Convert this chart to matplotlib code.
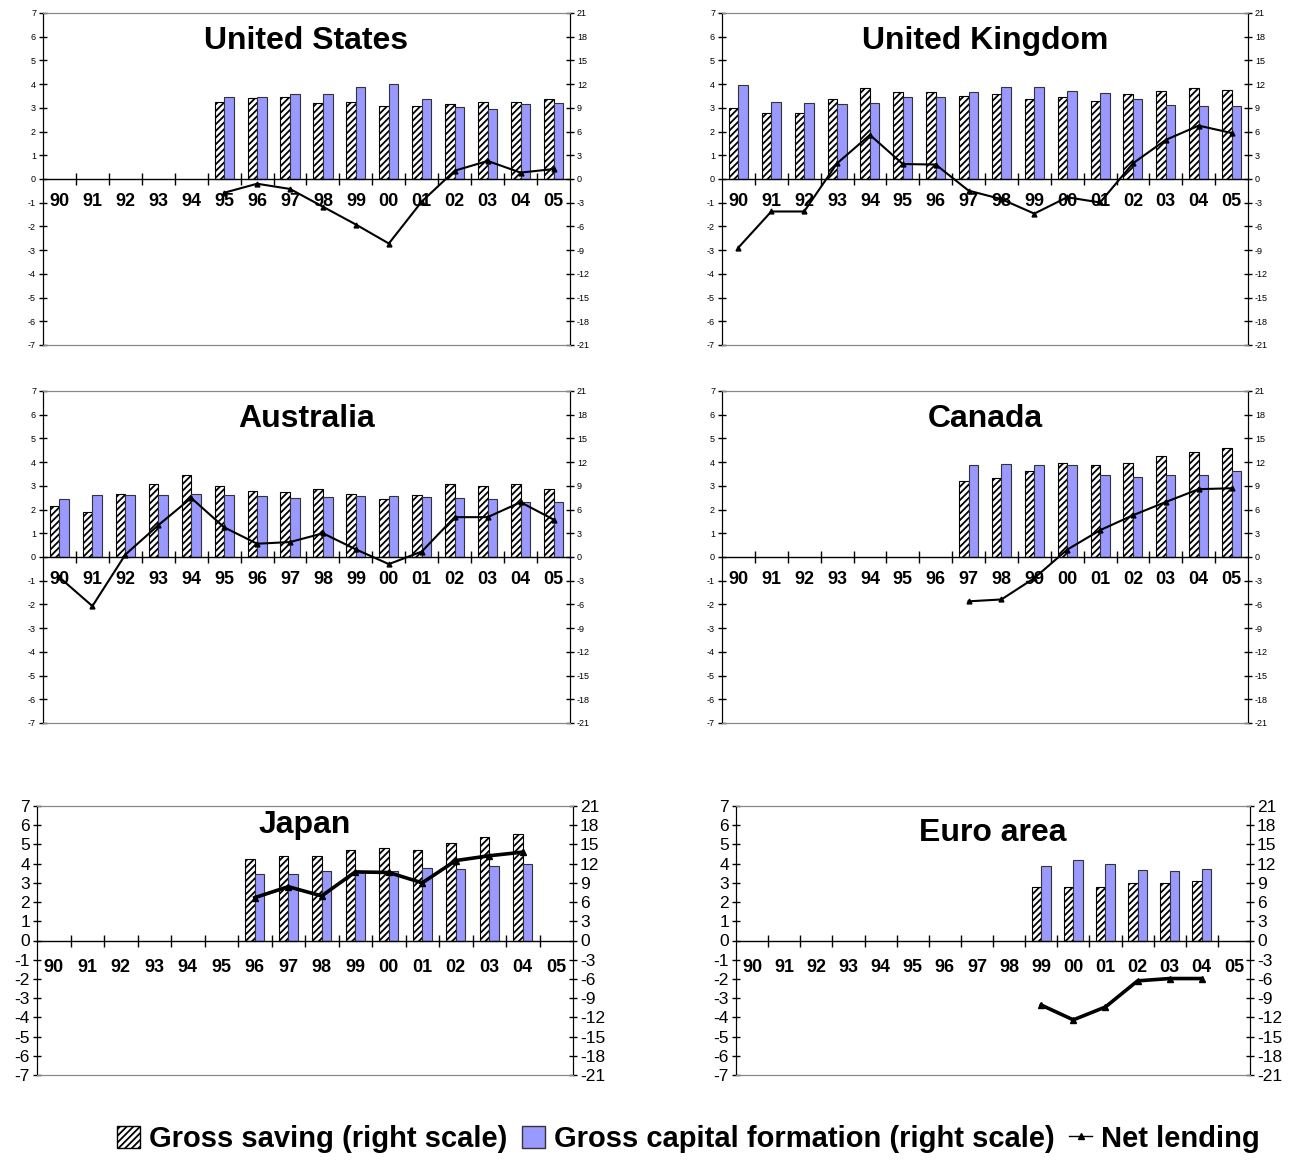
import matplotlib
matplotlib.use("Agg")
import matplotlib.pyplot as plt
import numpy as np
from matplotlib.lines import Line2D
from matplotlib.patches import Patch


FIG_W, FIG_H = 1296, 1167
YEARS = ["90", "91", "92", "93", "94", "95", "96", "97", "98", "99",
         "00", "01", "02", "03", "04", "05"]

# gross saving / gross capital formation on the right scale, net lending on the left
US_START = "95"
US_SAVING = [9.8, 10.2, 10.4, 9.6, 9.7, 9.2, 9.2, 9.5, 9.7, 9.8, 10.1]
US_GCF = [10.4, 10.4, 10.8, 10.7, 11.7, 12.0, 10.1, 9.1, 8.9, 9.5, 9.6]
US_NET = [-0.58, -0.2, -0.42, -1.17, -1.92, -2.72, -0.95, 0.35, 0.76, 0.27, 0.42]

UK_START = "90"
UK_SAVING = [9.0, 8.4, 8.3, 10.1, 11.5, 11.0, 11.0, 10.5, 10.8, 10.1, 10.4, 9.9,
             10.7, 11.1, 11.5, 11.3]
UK_GCF = [11.9, 9.8, 9.6, 9.5, 9.6, 10.4, 10.4, 11.0, 11.6, 11.6, 11.1, 10.9,
          10.1, 9.4, 9.2, 9.2]
UK_NET = [-2.89, -1.37, -1.37, 0.66, 1.86, 0.63, 0.61, -0.49, -0.85, -1.46, -0.77,
          -0.99, 0.66, 1.65, 2.25, 1.94]

AU_START = "90"
AU_SAVING = [6.5, 5.7, 8.0, 9.2, 10.4, 9.0, 8.3, 8.2, 8.6, 8.0, 7.4, 7.9, 9.2,
             9.0, 9.2, 8.6]
AU_GCF = [7.4, 7.8, 7.9, 7.9, 8.0, 7.8, 7.7, 7.5, 7.6, 7.7, 7.7, 7.6, 7.5, 7.3,
          7.0, 6.9]
AU_NET = [-0.86, -2.07, 0.1, 1.34, 2.49, 1.25, 0.56, 0.63, 1.0, 0.32, -0.3, 0.23,
          1.68, 1.68, 2.31, 1.58]

CA_START = "97"
CA_SAVING = [9.6, 10.0, 10.9, 11.9, 11.6, 11.9, 12.8, 13.3, 13.8]
CA_GCF = [11.6, 11.8, 11.7, 11.6, 10.4, 10.1, 10.4, 10.4, 10.9]
CA_NET = [-1.87, -1.79, -0.89, 0.31, 1.13, 1.76, 2.32, 2.86, 2.9]

JP_START = "96"
JP_SAVING = [12.7, 13.2, 13.2, 14.2, 14.4, 14.2, 15.3, 16.1, 16.6]
JP_GCF = [10.4, 10.4, 10.9, 10.7, 10.9, 11.3, 11.1, 11.7, 12.0]
JP_NET = [2.23, 2.8, 2.32, 3.57, 3.54, 3.0, 4.16, 4.41, 4.6]

EA_START = "99"
EA_SAVING = [8.4, 8.4, 8.4, 8.9, 8.9, 9.3]
EA_GCF = [11.7, 12.5, 11.9, 11.0, 10.9, 11.2]
EA_NET = [-3.36, -4.13, -3.46, -2.1, -1.98, -1.98]

BOLD = ["Liberation Sans", "DejaVu Sans"]
BLUE = "#9999ff"
HATCH = "/////"


def px_rect(x0, y0, x1, y1):
    return [x0 / FIG_W, 1 - y1 / FIG_H, (x1 - x0) / FIG_W, (y1 - y0) / FIG_H]


def draw_panel(fig, rect, title, start, saving, gcf, net, big=False, title_y=5.8):
    ax = fig.add_axes(rect)
    ax2 = ax.twinx()

    first = YEARS.index(start)
    x = np.arange(first, first + len(saving))
    width = 0.29
    ax2.bar(x - width / 2, saving, width=width, facecolor="white",
            edgecolor="black", hatch=HATCH, linewidth=0.8)
    ax2.bar(x + width / 2, gcf, width=width, facecolor=BLUE,
            edgecolor="#333333", linewidth=0.8)

    # keep the net lending line above the bars
    ax.set_zorder(ax2.get_zorder() + 1)
    ax.patch.set_visible(False)
    ax.plot(x, net, color="black", linewidth=2.6 if big else 1.5,
            marker="^", markersize=5 if big else 3.5)

    ax.set_xlim(-0.5, len(YEARS) - 0.5)
    ax.set_ylim(-7, 7)
    ax2.set_ylim(-21, 21)
    ax.set_yticks(range(-7, 8))
    ax2.set_yticks(range(-21, 22, 3))
    ax.set_xticks([])

    tick_size = 12.5 if big else 6.5
    for a in (ax, ax2):
        a.tick_params(axis="y", direction="inout", length=6, width=1,
                      labelsize=tick_size, pad=2)
        for side in ("top", "bottom"):
            a.spines[side].set_color("#888888")
        for side in ("left", "right"):
            a.spines[side].set_color("black")
    for lab in ax.get_yticklabels() + ax2.get_yticklabels():
        lab.set_family(BOLD)

    # category axis through zero with boundary ticks
    ax.axhline(0, color="black", linewidth=1)
    bounds = np.arange(0.5, len(YEARS) - 0.5, 1.0)
    ax.plot(bounds, np.zeros_like(bounds), linestyle="none", marker="|",
            markersize=9, markeredgewidth=1, color="black")
    offset = 27 if big else 23
    for i, year in enumerate(YEARS):
        ax.annotate(year, (i, 0), xytext=(0, -offset * 0.72),
                    textcoords="offset points", ha="center", va="center",
                    fontsize=13, fontweight="bold", family=BOLD)

    ax.text(7.5, title_y, title, ha="center", va="center", fontsize=23,
            fontweight="bold", family=BOLD)
    return ax


def main():
    plt.rcParams["hatch.linewidth"] = 1.3
    plt.rcParams["axes.unicode_minus"] = False
    fig = plt.figure(figsize=(FIG_W / 100, FIG_H / 100), dpi=100)

    draw_panel(fig, px_rect(43, 13, 570, 345), "United States",
               US_START, US_SAVING, US_GCF, US_NET)
    draw_panel(fig, px_rect(722, 13, 1248, 345), "United Kingdom",
               UK_START, UK_SAVING, UK_GCF, UK_NET)
    draw_panel(fig, px_rect(43, 391, 570, 723), "Australia",
               AU_START, AU_SAVING, AU_GCF, AU_NET)
    draw_panel(fig, px_rect(722, 391, 1248, 723), "Canada",
               CA_START, CA_SAVING, CA_GCF, CA_NET)
    draw_panel(fig, px_rect(37, 806, 573, 1075), "Japan",
               JP_START, JP_SAVING, JP_GCF, JP_NET, big=True, title_y=6.0)
    draw_panel(fig, px_rect(736, 806, 1250, 1075), "Euro area",
               EA_START, EA_SAVING, EA_GCF, EA_NET, big=True, title_y=5.6)

    handles = [
        Patch(facecolor="white", edgecolor="black", hatch=HATCH),
        Patch(facecolor=BLUE, edgecolor="#333333"),
        Line2D([], [], color="black", linewidth=1, marker="^", markersize=4),
    ]
    labels = ["Gross saving (right scale)",
              "Gross capital formation (right scale)", "Net lending"]
    fig.legend(handles, labels, loc="center", bbox_to_anchor=(0.531, 1 - 1139 / FIG_H),
               ncol=3, frameon=False, handlelength=0.8, handleheight=0.8,
               handletextpad=0.3, columnspacing=0.5,
               prop={"family": BOLD, "weight": "bold", "size": 21})

    fig.savefig("out.png", dpi=100)


if __name__ == "__main__":
    main()
